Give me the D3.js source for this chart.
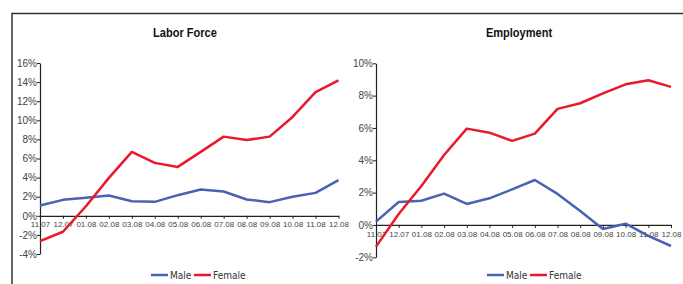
<!DOCTYPE html>
<html>
<head>
<meta charset="utf-8">
<script src="https://cdn.jsdelivr.net/npm/d3@7"></script>
<style>
  body { margin: 0; background: #fff; }
  text { font-family: "Liberation Sans Narrow", "Arial Narrow", "DejaVu Sans Condensed", sans-serif; }
</style>
</head>
<body>
<div id="chart"></div>
<script>
// months on the x axis
var months = ["11.07","12.07","01.08","02.08","03.08","04.08","05.08","06.08","07.08","08.08","09.08","10.08","11.08","12.08"];

// Labor Force, y/y change in %
var laborMale   = [1.08, 1.67, 1.88, 2.13, 1.53, 1.46, 2.16, 2.75, 2.54, 1.71, 1.43, 1.99, 2.40, 3.73];
var laborFemale = [-2.65, -1.67, 1.0, 3.97, 6.69, 5.54, 5.12, 6.69, 8.29, 7.94, 8.29, 10.35, 12.96, 14.18];
var laborTicks  = [-4, -2, 0, 2, 4, 6, 8, 10, 12, 14, 16];

// Employment, y/y change in %
var empMale   = [0.21, 1.42, 1.50, 1.94, 1.30, 1.65, 2.20, 2.78, 1.92, 0.87, -0.25, 0.08, -0.68, -1.30];
var empFemale = [-1.34, 0.68, 2.41, 4.33, 5.96, 5.71, 5.20, 5.65, 7.18, 7.53, 8.14, 8.70, 8.95, 8.54];
var empTicks  = [-2, 0, 2, 4, 6, 8, 10];

var seriesNames = ["Male", "Female"];
var colors = {"Male": "#4a62b4", "Female": "#e8192c"};

var W = 683, H = 284;
var tickFont = "\"Liberation Sans\", Arial, sans-serif";

var svg = d3.select("#chart")
    .append("svg")
    .attr("width", W)
    .attr("height", H);

// frame round the panel (open at right and bottom)
svg.append("path")
    .attr("d", "M12," + H + "V13.5H" + W)
    .attr("fill", "none")
    .attr("stroke", "#333")
    .attr("stroke-width", 1.5);

function drawPanel(opt) {
    var g = svg.append("g");

    var x = d3.scalePoint()
        .domain(months)
        .range([opt.left, opt.right]);

    var y = d3.scaleLinear()
        .domain(d3.extent(opt.ticks))
        .range([opt.bottom, opt.top]);

    // title (condensed bold, squeezed sideways)
    g.append("g")
        .attr("transform", "translate(" + opt.titleX + ",37)")
        .append("text")
        .attr("transform", "scale(0.85,1)")
        .attr("text-anchor", "middle")
        .style("font-family", tickFont)
        .style("font-size", "13px")
        .style("font-weight", "bold")
        .attr("fill", "#111")
        .text(opt.title);

    // Y axis
    var yAxis = g.append("g")
        .attr("transform", "translate(" + opt.left + ",0)")
        .call(d3.axisLeft(y)
            .tickValues(opt.ticks)
            .tickSize(3)
            .tickSizeOuter(0)
            .tickFormat(function(d) { return d + "%"; }));
    yAxis.select(".domain").attr("stroke", "#222").attr("stroke-width", 1.2);
    yAxis.selectAll(".tick line").attr("stroke", "#222");
    yAxis.selectAll(".tick text")
        .attr("x", -3)
        .attr("fill", "#444")
        .style("font-size", "10px")
        .style("font-family", tickFont);

    // X axis on the zero line
    var xAxis = g.append("g")
        .attr("transform", "translate(0," + y(0) + ")")
        .call(d3.axisBottom(x).tickSize(3).tickSizeOuter(0));
    xAxis.select(".domain").attr("stroke", "#222").attr("stroke-width", 1.2);
    xAxis.selectAll(".tick line").attr("stroke", "#222");
    xAxis.selectAll(".tick text")
        .attr("y", 6)
        .attr("fill", "#444")
        .style("font-size", "8px")
        .style("font-family", tickFont);

    // lines
    var line = d3.line()
        .x(function(d, i) { return x(months[i]); })
        .y(function(d) { return y(d); });

    [opt.male, opt.female].forEach(function(vals, k) {
        g.append("path")
            .datum(vals)
            .attr("fill", "none")
            .attr("stroke", colors[seriesNames[k]])
            .attr("stroke-width", 2.5)
            .attr("stroke-linejoin", "round")
            .attr("d", line);
    });

    // legend
    var leg = g.append("g")
        .attr("transform", "translate(" + opt.legendX + ",275)");
    var offs = [0, 43];
    seriesNames.forEach(function(name, k) {
        leg.append("line")
            .attr("x1", offs[k]).attr("x2", offs[k] + 17)
            .attr("y1", 0).attr("y2", 0)
            .attr("stroke", colors[name])
            .attr("stroke-width", 2.5);
        leg.append("text")
            .attr("x", offs[k] + 19)
            .attr("y", 3.5)
            .attr("fill", "#333")
            .style("font-size", "10px")
            .text(name);
    });
}

drawPanel({
    title: "Labor Force", titleX: 185,
    left: 40, right: 338.5, top: 63, bottom: 254,
    ticks: laborTicks, male: laborMale, female: laborFemale,
    legendX: 151
});

drawPanel({
    title: "Employment", titleX: 519,
    left: 376, right: 671, top: 63.3, bottom: 257.3,
    ticks: empTicks, male: empMale, female: empFemale,
    legendX: 487
});
</script>
</body>
</html>
